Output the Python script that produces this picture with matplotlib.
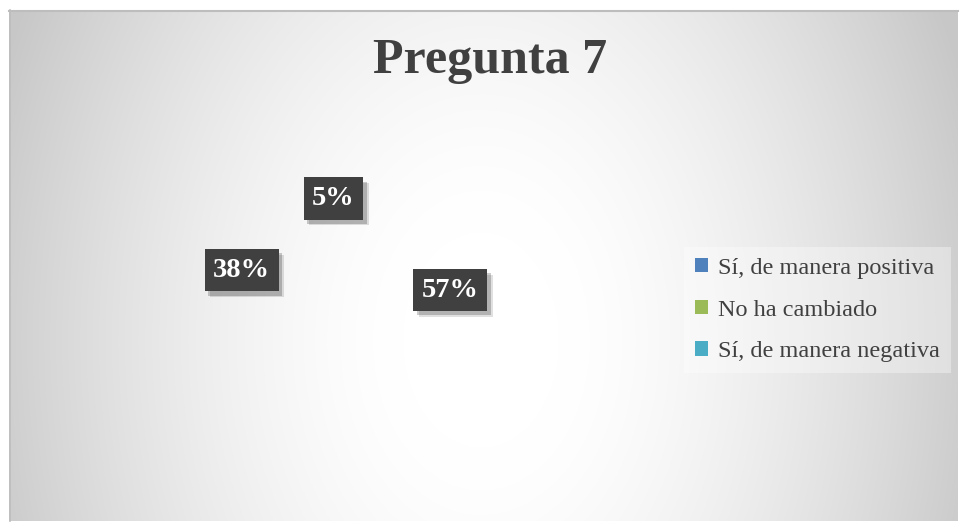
import numpy as np
import matplotlib
matplotlib.use("Agg")
import matplotlib.pyplot as plt
from matplotlib.patches import Patch
import matplotlib.patheffects as pe

title = "Pregunta 7"
categories = ["Sí, de manera positiva", "No ha cambiado", "Sí, de manera negativa"]
values = [57, 38, 5]
labels = ["57%", "38%", "5%"]
legend_colors = ["#4f81bd", "#9bbb59", "#4bacc6"]

W, H = 960, 522
fig = plt.figure(figsize=(W / 100, H / 100), dpi=100)
fig.patch.set_facecolor("white")

# background gradient (chart area)
x0, y0, x1, y1 = 9, 10, 958, 521
bw, bh = x1 - x0, y1 - y0
bg = fig.add_axes([x0 / W, (H - y1) / H, bw / W, bh / H])
yy, xx = np.mgrid[0:bh, 0:bw]
d = np.sqrt(((xx - 472) / 520.0) ** 2 + ((yy - 330) / 720.0) ** 2)
t = np.clip((d - 0.15) / 0.85, 0, 1) ** 1.5
val = (255 - 56 * t) / 255.0
img = np.dstack([val, val, val])
bg.imshow(img, aspect="auto", interpolation="bilinear")
bg.set_axis_off()
fig.add_artist(plt.Line2D([x0 / W, x1 / W], [1 - (y0 + 0.5) / H] * 2, color="#bdbdbd", lw=1.5))
fig.add_artist(plt.Line2D([(x0 + 0.5) / W] * 2, [1 - y0 / H, 1 - y1 / H], color="#bdbdbd", lw=1.2))

fig.text(490 / W, 1 - 61 / H, title, ha="center", va="center", fontsize=36,
         fontweight="bold", color="#404040", family="Liberation Serif")

# pie
cx, cy, R = 347, 272, 120
ax = fig.add_axes([(cx - R) / W, (H - cy - R) / H, 2 * R / W, 2 * R / H])
wedges, _ = ax.pie(values, startangle=90, counterclock=False, radius=1,
                   colors=["none"] * len(values), wedgeprops=dict(linewidth=0))
ax.set_xlim(-1, 1)
ax.set_ylim(-1, 1)
ax.set_axis_off()

dists = [0.88, 0.88, 0.62]
nudges = [(0, 5), (0, -5), (-2, 0)]
for w, lab, dist, nd in zip(wedges, labels, dists, nudges):
    ang = np.deg2rad((w.theta1 + w.theta2) / 2)
    x, y = dist * np.cos(ang), dist * np.sin(ang)
    txt = ax.annotate(lab, (x, y), xytext=nd, textcoords="offset pixels",
                      ha="center", va="center", fontsize=20.5, fontweight="bold",
                      color="white", family="Liberation Serif",
                      bbox=dict(boxstyle="square,pad=0.3", fc="#404040", ec="none"))
    txt.get_bbox_patch().set_path_effects([
        pe.SimplePatchShadow(offset=(4, -4), alpha=0.12, shadow_rgbFace="#000000"),
        pe.SimplePatchShadow(offset=(2.5, -3), alpha=0.2, shadow_rgbFace="#000000"),
        pe.Normal()])

handles = [Patch(facecolor=c, edgecolor="none") for c in legend_colors]
leg = fig.legend(handles, categories, loc="center left",
                 bbox_to_anchor=(684 / W, 1 - 310 / H), frameon=True,
                 prop=dict(family="Liberation Serif", size=17.5),
                 handlelength=0.55, handleheight=0.55, handletextpad=0.4,
                 labelspacing=0.86, borderpad=0.45, borderaxespad=0, fancybox=False)
leg.get_frame().set_facecolor("white")
leg.get_frame().set_alpha(0.35)
leg.get_frame().set_edgecolor("none")
for t_ in leg.get_texts():
    t_.set_color("#404040")

fig.savefig("out.png", dpi=100)
